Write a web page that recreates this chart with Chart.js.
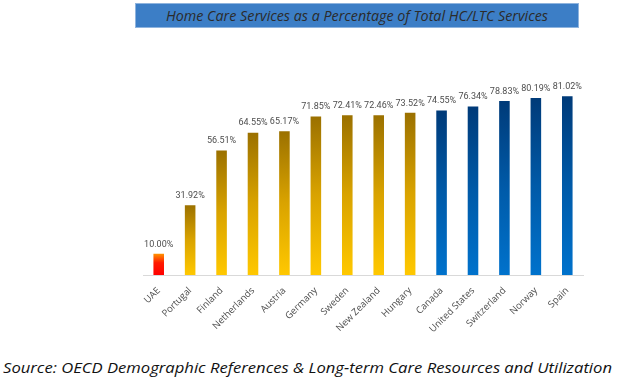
<!DOCTYPE html>
<html>
<head>
<meta charset="utf-8">
<script src="https://cdn.jsdelivr.net/npm/chart.js@4"></script>
<style>
  html, body { margin: 0; padding: 0; background: #ffffff; }
  body { width: 617px; height: 379px; position: relative; overflow: hidden; }
  #wrap { position: absolute; left: 0; top: 0; width: 617px; height: 345px; }
  #titleBox {
    position: absolute; left: 135px; top: 3px; width: 442px; height: 23px;
    background: #3c7ec6; border: 1px solid #8fb4de;
    font-family: "Open Sans", sans-serif; font-style: italic; font-size: 14.3px;
    color: #2b2b2b; text-align: center; line-height: 23px; white-space: nowrap;
  }
  #source {
    position: absolute; left: 3px; top: 357px; white-space: nowrap;
    font-family: "Open Sans", sans-serif; font-style: italic; font-weight: 400; font-size: 15px;
    color: #111111; transform-origin: 0 0;
  }
</style>
</head>
<body>
<div id="titleBox">Home Care Services as a Percentage of Total HC/LTC Services</div>
<div id="wrap"><canvas id="c" width="617" height="345"></canvas></div>
<div id="source">Source: OECD Demographic References &amp; Long-term Care Resources and Utilization</div>
<script>
const countries = ['UAE','Portugal','Finland','Netherlands','Austria','Germany','Sweden','New Zealand','Hungary','Canada','United States','Switzerland','Norway','Spain'];
const values = [10.00, 31.92, 56.51, 64.55, 65.17, 71.85, 72.41, 72.46, 73.52, 74.55, 76.34, 78.83, 80.19, 81.02];
const groups = ['uae','oecd','oecd','oecd','oecd','oecd','oecd','oecd','oecd','top','top','top','top','top'];

const gradStops = {
  uae:  [[0, '#ff0000'], [0.55, '#ff1a00'], [1, '#ffa000']],
  oecd: [[0, '#ffc800'], [0.5, '#d9a300'], [1, '#9a7000']],
  top:  [[0, '#0072cc'], [0.5, '#005aa8'], [1, '#003a78']]
};

// fit source text width
(function(){
  const s = document.getElementById('source');
  const w = s.getBoundingClientRect().width;
  s.style.transform = 'scaleX(' + (609 / w) + ')';
})();

const valueLabels = {
  id: 'valueLabels',
  afterDatasetsDraw(chart) {
    const ctx = chart.ctx;
    const meta = chart.getDatasetMeta(0);
    ctx.save();
    ctx.font = '9px Roboto, sans-serif';
    ctx.fillStyle = '#4d4d4d';
    ctx.textAlign = 'center';
    ctx.textBaseline = 'bottom';
    meta.data.forEach((bar, i) => {
      ctx.fillText(values[i].toFixed(2) + '%', bar.x, bar.y - 4);
    });
    ctx.restore();
  }
};

new Chart(document.getElementById('c'), {
  type: 'bar',
  data: {
    labels: countries,
    datasets: [{
      data: values,
      backgroundColor: (c) => {
        const chart = c.chart;
        if (!chart.chartArea || c.dataIndex === undefined) return '#ffc800';
        const y = chart.scales.y;
        const base = y.getPixelForValue(0);
        const top = y.getPixelForValue(values[c.dataIndex]);
        const g = chart.ctx.createLinearGradient(0, base, 0, top);
        gradStops[groups[c.dataIndex]].forEach(s => g.addColorStop(s[0], s[1]));
        return g;
      },
      borderColor: 'rgba(255,255,255,0.35)',
      borderWidth: 1,
      borderSkipped: 'bottom',
      categoryPercentage: 1,
      barPercentage: 0.4
    }]
  },
  options: {
    responsive: false,
    animation: false,
    layout: { padding: { left: 143, right: 34, top: 53, bottom: 0 } },
    plugins: { legend: { display: false }, tooltip: { enabled: false }, title: { display: false } },
    scales: {
      y: { display: false, min: 0, max: 100 },
      x: {
        grid: { display: false },
        border: { display: true, color: '#d9d9d9', width: 1 },
        ticks: {
          color: '#4d4d4d',
          font: { family: '"Open Sans", sans-serif', size: 9.5 },
          minRotation: 45, maxRotation: 45, padding: 2, autoSkip: false
        },
        afterFit: (scale) => { scale.height = 70; }
      }
    }
  },
  plugins: [valueLabels]
});
</script>
</body>
</html>
